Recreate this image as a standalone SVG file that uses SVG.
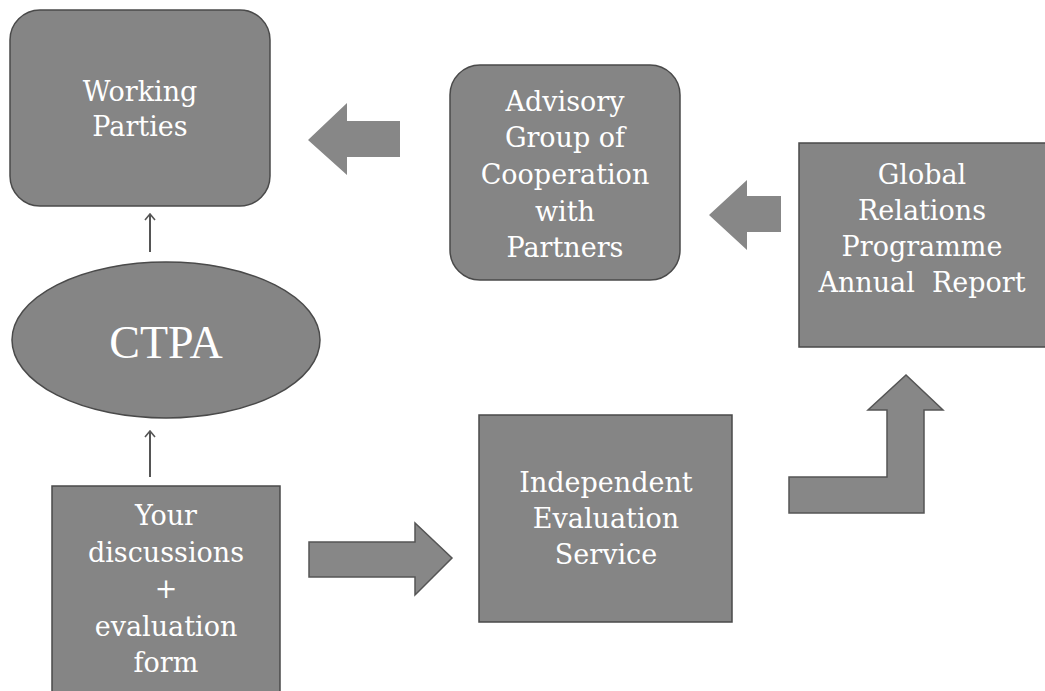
<svg xmlns="http://www.w3.org/2000/svg" width="1045" height="691" viewBox="0 0 1045 691">
<style>
.box{fill:#858585;stroke:#4a4a4a;stroke-width:1.5}
.lbl{font-family:"DejaVu Serif","Liberation Serif",serif;font-size:27px;fill:#ffffff;text-anchor:middle}
.big{font-family:"Liberation Serif","Times New Roman",serif;font-size:46px;fill:#ffffff;text-anchor:middle}
.blk{fill:#878787}
.blko{fill:#878787;stroke:#555;stroke-width:1.5}
.thin{stroke:#555;stroke-width:2;fill:none}
</style>
<defs>
<marker id="open" viewBox="0 0 12 12" refX="11" refY="6" markerWidth="12" markerHeight="12" markerUnits="userSpaceOnUse" orient="auto">
<path d="M5,1 L11,6 L5,11" fill="none" stroke="#555" stroke-width="1.6"/>
</marker>
</defs>
<rect width="1045" height="691" fill="#ffffff"/>
<g id="working-parties">
<rect class="box" x="10" y="10" width="260" height="196" rx="30" ry="30"/>
<text class="lbl" x="140" y="101">Working</text>
<text class="lbl" x="140" y="136">Parties</text>
</g>
<g id="advisory-group">
<rect class="box" x="450" y="65" width="230" height="215" rx="30" ry="30"/>
<text class="lbl" x="565" y="111">Advisory</text>
<text class="lbl" x="565" y="147">Group of</text>
<text class="lbl" x="565" y="184">Cooperation</text>
<text class="lbl" x="565" y="221">with</text>
<text class="lbl" x="565" y="257">Partners</text>
</g>
<g id="global-relations">
<rect class="box" x="799" y="143" width="250" height="204"/>
<text class="lbl" x="922" y="184">Global</text>
<text class="lbl" x="922" y="220">Relations</text>
<text class="lbl" x="922" y="256">Programme</text>
<text class="lbl" x="922" y="292" xml:space="preserve">Annual  Report</text>
</g>
<g id="ctpa">
<ellipse class="box" cx="166" cy="340" rx="154" ry="78"/>
<text class="big" x="166" y="358">CTPA</text>
</g>
<g id="your-discussions">
<rect class="box" x="52" y="486" width="228" height="210"/>
<text class="lbl" x="166" y="525">Your</text>
<text class="lbl" x="166" y="562">discussions</text>
<text class="lbl" x="166" y="598">+</text>
<text class="lbl" x="166" y="636">evaluation</text>
<text class="lbl" x="166" y="672">form</text>
</g>
<g id="independent-evaluation">
<rect class="box" x="479" y="415" width="253" height="207"/>
<text class="lbl" x="606" y="492">Independent</text>
<text class="lbl" x="606" y="528">Evaluation</text>
<text class="lbl" x="606" y="564">Service</text>
</g>
<g id="connectors">
<polygon class="blk" points="308,140 347,103 347,121 400,121 400,157 347,157 347,175"/>
<polygon class="blk" points="709,215 747,180 747,196 781,196 781,232 747,232 747,250"/>
<polygon class="blko" points="309,542 415,542 415,523 452,558 415,595 415,577 309,577"/>
<polygon class="blko" points="789,477 887,477 887,410 868,410 906,375 943,410 924,410 924,513 789,513"/>
<path class="thin" d="M150,252 L150,214" marker-end="url(#open)"/>
<path class="thin" d="M150,477 L150,431" marker-end="url(#open)"/>
</g>
</svg>
